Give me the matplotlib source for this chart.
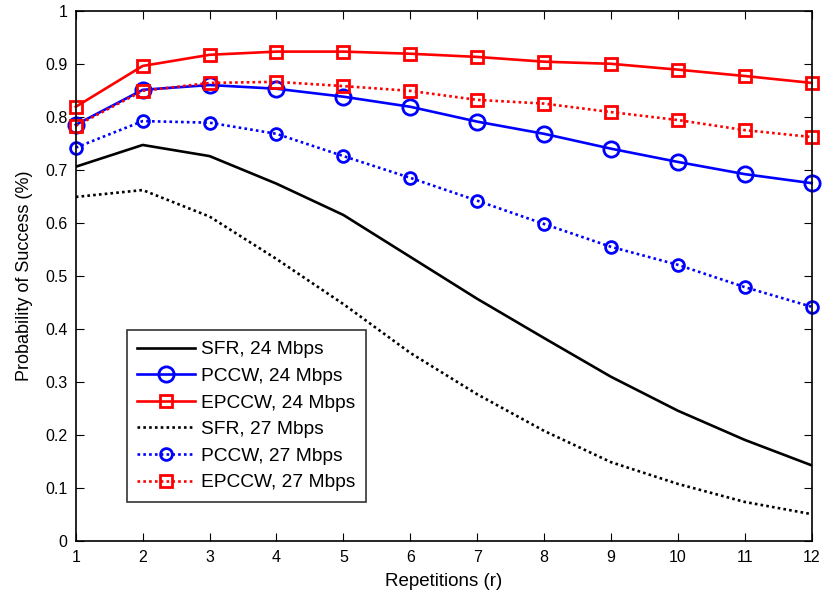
import matplotlib.pyplot as plt
import numpy as np

plt.rcParams['font.family'] = ['Liberation Sans', 'DejaVu Sans']

reps = np.arange(1, 13)

sfr_24 = [0.706, 0.747, 0.726, 0.674, 0.615, 0.536, 0.457, 0.383, 0.310, 0.246, 0.191, 0.143]
pccw_24 = [0.785, 0.851, 0.860, 0.853, 0.838, 0.819, 0.791, 0.768, 0.740, 0.715, 0.692, 0.675]
epccw_24 = [0.819, 0.896, 0.917, 0.923, 0.923, 0.919, 0.913, 0.904, 0.900, 0.889, 0.877, 0.864]
sfr_27 = [0.649, 0.662, 0.612, 0.532, 0.447, 0.355, 0.277, 0.208, 0.149, 0.108, 0.074, 0.051]
pccw_27 = [0.742, 0.792, 0.789, 0.768, 0.726, 0.685, 0.642, 0.598, 0.555, 0.521, 0.479, 0.442]
epccw_27 = [0.783, 0.849, 0.864, 0.866, 0.858, 0.849, 0.832, 0.825, 0.809, 0.794, 0.775, 0.762]

labels = ['SFR, 24 Mbps', 'PCCW, 24 Mbps', 'EPCCW, 24 Mbps',
          'SFR, 27 Mbps', 'PCCW, 27 Mbps', 'EPCCW, 27 Mbps']
yticklabels = ['0', '0.1', '0.2', '0.3', '0.4', '0.5', '0.6', '0.7', '0.8', '0.9', '1']

fig = plt.figure(figsize=(8.24, 5.98), dpi=100)
ax = fig.add_axes([0.092, 0.095, 0.893, 0.887])

lw = 1.9
dot = (0, (1, 1.2))
ax.plot(reps, sfr_24, color='black', lw=lw, label=labels[0])
ax.plot(reps, pccw_24, color='blue', lw=lw, marker='o', ms=11, mfc='none', mew=2,
        clip_on=False, label=labels[1])
ax.plot(reps, epccw_24, color='red', lw=lw, marker='s', ms=8.5, mfc='none', mew=2,
        clip_on=False, label=labels[2])
ax.plot(reps, sfr_27, color='black', lw=lw, ls=dot, label=labels[3])
ax.plot(reps, pccw_27, color='blue', lw=lw, ls=dot, marker='o', ms=8.5, mfc='none', mew=2,
        clip_on=False, label=labels[4])
ax.plot(reps, epccw_27, color='red', lw=lw, ls=dot, marker='s', ms=8.5, mfc='none', mew=2,
        clip_on=False, label=labels[5])

ax.set_xlim(1, 12)
ax.set_ylim(0, 1)
ax.set_xticks(reps)
ax.set_yticks(np.linspace(0, 1, 11))
ax.set_yticklabels(yticklabels)
ax.tick_params(direction='in', top=True, right=True, labelsize=11.5, length=6)
ax.tick_params(axis='x', pad=6)
ax.tick_params(axis='y', pad=6)
for s in ax.spines.values():
    s.set_linewidth(1.2)

ax.set_xlabel('Repetitions (r)', fontsize=13.5, labelpad=6)
ax.set_ylabel('Probability of Success (%)', fontsize=13, labelpad=9)

leg = ax.legend(loc='lower left', bbox_to_anchor=(0.069, 0.074), borderaxespad=0,
                fontsize=13.8, frameon=True, fancybox=False, edgecolor='black',
                handlelength=3.0, borderpad=0.55, labelspacing=0.48, handletextpad=0.35)
leg.get_frame().set_linewidth(1.2)

fig.savefig('out.png', dpi=100)
